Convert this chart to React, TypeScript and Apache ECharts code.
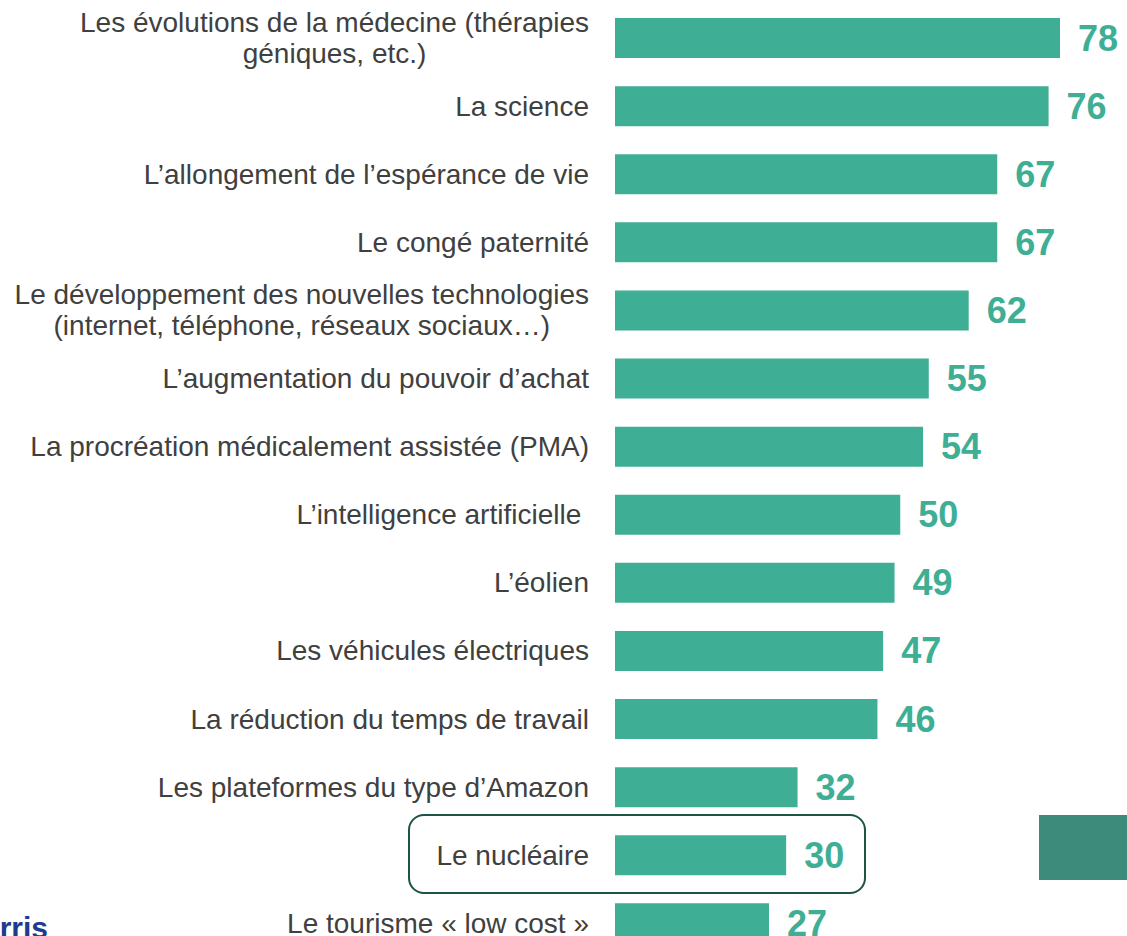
import React, { useEffect, useRef } from "react";
import * as echarts from "echarts";

const categories: string[] = [
  "Les évolutions de la médecine (thérapies\ngéniques, etc.)",
  "La science",
  "L’allongement de l’espérance de vie",
  "Le congé paternité",
  "Le développement des nouvelles technologies\n(internet, téléphone, réseaux sociaux…)",
  "L’augmentation du pouvoir d’achat",
  "La procréation médicalement assistée (PMA)",
  "L’intelligence artificielle ",
  "L’éolien",
  "Les véhicules électriques",
  "La réduction du temps de travail",
  "Les plateformes du type d’Amazon",
  "Le nucléaire",
  "Le tourisme « low cost »",
];

const values: number[] = [78, 76, 67, 67, 62, 55, 54, 50, 49, 47, 46, 32, 30, 27];

const BAR = "#3eae95";
const LABEL = "#404040";
const FONT = "'Liberation Sans', Arial, sans-serif";

export default function App() {
  const ref = useRef<HTMLDivElement>(null);
  useEffect(() => {
    if (!ref.current) return;
    const chart = echarts.init(ref.current, null, { renderer: "svg" });
    chart.setOption({
      animation: false,
      backgroundColor: "#ffffff",
      grid: { left: 615, top: 4, width: 456.4, height: 953.4, containLabel: false },
      xAxis: {
        type: "value",
        min: 0,
        max: 80,
        show: false,
      },
      yAxis: {
        type: "category",
        inverse: true,
        data: categories,
        axisLine: { show: false },
        axisTick: { show: false },
        splitLine: { show: false },
        axisLabel: {
          margin: 26,
          color: LABEL,
          fontSize: 28,
          fontFamily: FONT,
          lineHeight: 31,
          formatter: (v: string) =>
            v.includes("\n")
              ? v
                  .split("\n")
                  .map((l) => `{c|${l}}`)
                  .join("\n")
              : v,
          rich: {
            c: {
              align: "center",
              color: LABEL,
              fontSize: 28,
              fontFamily: FONT,
              lineHeight: 31,
            },
          },
        },
      },
      series: [
        {
          type: "bar",
          data: values,
          barWidth: 40,
          itemStyle: { color: BAR },
          label: {
            show: true,
            position: "right",
            distance: 18,
            color: BAR,
            fontSize: 36,
            fontWeight: "bold",
            fontFamily: FONT,
          },
        },
      ],
      graphic: [
        {
          type: "rect",
          shape: { x: 409, y: 815, width: 456, height: 78, r: 15 },
          style: { fill: "none", stroke: "#1c5446", lineWidth: 2 },
          z: 10,
        },
        {
          type: "rect",
          shape: { x: 1039, y: 815, width: 90, height: 65 },
          style: { fill: "#3d8b7a" },
        },
        {
          type: "text",
          x: 48,
          y: 927,
          style: {
            text: "Harris",
            fontSize: 30,
            fontWeight: "bold",
            fontFamily: FONT,
            fill: "#1d3b8f",
            align: "right",
            verticalAlign: "middle",
          },
        },
      ],
    });
    return () => chart.dispose();
  }, []);
  return (
    <div
      style={{
        position: "fixed",
        left: 0,
        top: 0,
        width: 1127,
        height: 936,
        overflow: "hidden",
        background: "#ffffff",
      }}
    >
      <div ref={ref} style={{ width: 1127, height: 960 }} />
    </div>
  );
}
